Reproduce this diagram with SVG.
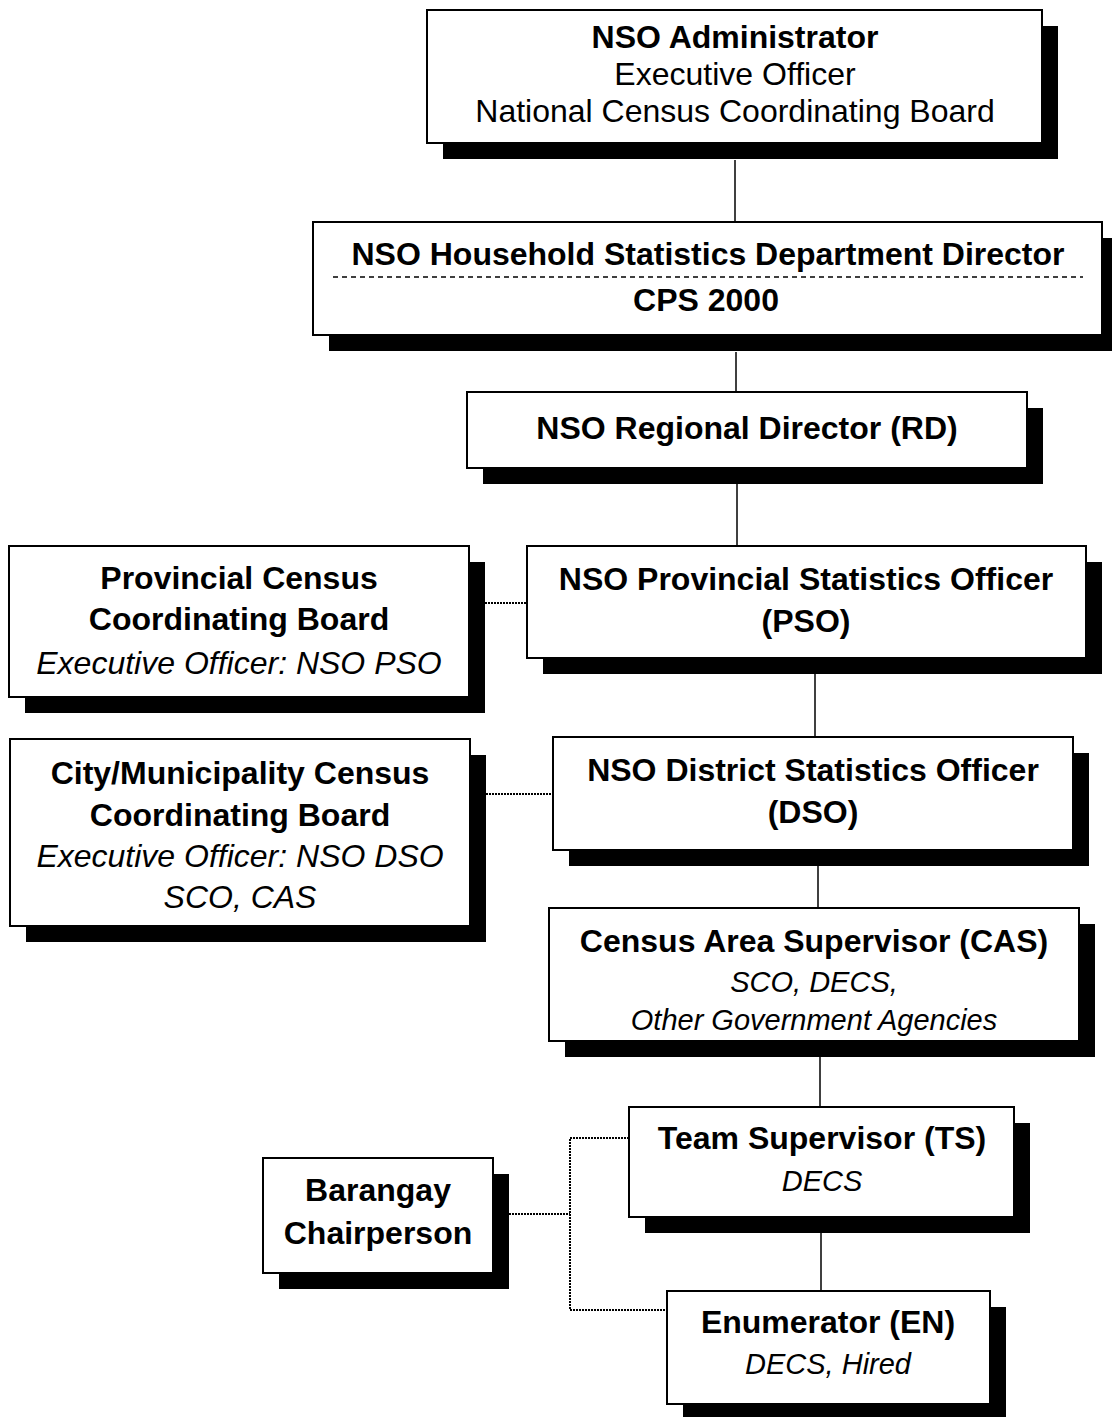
<svg xmlns="http://www.w3.org/2000/svg" width="1112" height="1417" viewBox="0 0 1112 1417">
<style>
.bg{fill:#ffffff}
.sh{fill:#000000}
.bx{fill:#ffffff;stroke:#000000;stroke-width:2}
.t{font-family:"Liberation Sans",Arial,sans-serif;font-size:32px;fill:#000000;text-anchor:middle}
.b{font-weight:bold}
.i{font-style:italic}
.s{font-size:29px}
.ln{stroke:#000000;stroke-width:1.5;fill:none}
.dot{stroke:#000000;stroke-width:2;fill:none;stroke-dasharray:2 1}
.dash{stroke:#000000;stroke-width:1.5;fill:none;stroke-dasharray:5 4}
</style>
<rect class="bg" x="0" y="0" width="1112" height="1417"/>
<g id="connectors">
<line class="ln" x1="735" y1="160" x2="735" y2="222"/>
<line class="ln" x1="736" y1="352" x2="736" y2="392"/>
<line class="ln" x1="737" y1="484" x2="737" y2="546"/>
<line class="ln" x1="815" y1="674" x2="815" y2="737"/>
<line class="ln" x1="818" y1="866" x2="818" y2="908"/>
<line class="ln" x1="820" y1="1057" x2="820" y2="1107"/>
<line class="ln" x1="821" y1="1233" x2="821" y2="1291"/>
<line class="dot" x1="485" y1="603" x2="527" y2="603"/>
<line class="dot" x1="486" y1="794" x2="553" y2="794"/>
<polyline class="dot" points="509,1214 570,1214"/>
<polyline class="dot" points="629,1138 570,1138 570,1310 667,1310"/>
</g>
<g id="node-admin">
<rect class="sh" x="443" y="26" width="615" height="133"/>
<rect class="bx" x="427" y="10" width="615" height="133"/>
<text class="t b" x="735" y="48">NSO Administrator</text>
<text class="t" x="735" y="85">Executive Officer</text>
<text class="t" x="735" y="122">National Census Coordinating Board</text>
</g>
<g id="node-hsd">
<rect class="sh" x="329" y="238" width="789" height="113"/>
<rect class="bx" x="313" y="222" width="789" height="113"/>
<text class="t b" x="708" y="265">NSO Household Statistics Department Director</text>
<line class="dash" x1="333" y1="277" x2="1083" y2="277"/>
<text class="t b" x="706" y="311">CPS 2000</text>
</g>
<g id="node-rd">
<rect class="sh" x="483" y="408" width="560" height="76"/>
<rect class="bx" x="467" y="392" width="560" height="76"/>
<text class="t b" x="747" y="439">NSO Regional Director (RD)</text>
</g>
<g id="node-pso">
<rect class="sh" x="543" y="562" width="559" height="112"/>
<rect class="bx" x="527" y="546" width="559" height="112"/>
<text class="t b" x="806" y="590">NSO Provincial Statistics Officer</text>
<text class="t b" x="806" y="632">(PSO)</text>
</g>
<g id="node-pccb">
<rect class="sh" x="25" y="562" width="460" height="151"/>
<rect class="bx" x="9" y="546" width="460" height="151"/>
<text class="t b" x="239" y="589">Provincial Census</text>
<text class="t b" x="239" y="630">Coordinating Board</text>
<text class="t i" x="239" y="674">Executive Officer: NSO PSO</text>
</g>
<g id="node-dso">
<rect class="sh" x="569" y="753" width="520" height="113"/>
<rect class="bx" x="553" y="737" width="520" height="113"/>
<text class="t b" x="813" y="781">NSO District Statistics Officer</text>
<text class="t b" x="813" y="823">(DSO)</text>
</g>
<g id="node-cmccb">
<rect class="sh" x="26" y="755" width="460" height="187"/>
<rect class="bx" x="10" y="739" width="460" height="187"/>
<text class="t b" x="240" y="784">City/Municipality Census</text>
<text class="t b" x="240" y="826">Coordinating Board</text>
<text class="t i" x="240" y="867">Executive Officer: NSO DSO</text>
<text class="t i" x="240" y="908">SCO, CAS</text>
</g>
<g id="node-cas">
<rect class="sh" x="565" y="924" width="530" height="133"/>
<rect class="bx" x="549" y="908" width="530" height="133"/>
<text class="t b" x="814" y="952">Census Area Supervisor (CAS)</text>
<text class="t i s" x="814" y="992">SCO, DECS,</text>
<text class="t i s" x="814" y="1030">Other Government Agencies</text>
</g>
<g id="node-ts">
<rect class="sh" x="645" y="1123" width="385" height="110"/>
<rect class="bx" x="629" y="1107" width="385" height="110"/>
<text class="t b" x="822" y="1149">Team Supervisor (TS)</text>
<text class="t i s" x="822" y="1191">DECS</text>
</g>
<g id="node-en">
<rect class="sh" x="683" y="1307" width="323" height="113"/>
<rect class="bx" x="667" y="1291" width="323" height="113"/>
<text class="t b" x="828" y="1333">Enumerator (EN)</text>
<text class="t i s" x="828" y="1374">DECS, Hired</text>
</g>
<g id="node-barangay">
<rect class="sh" x="279" y="1174" width="230" height="115"/>
<rect class="bx" x="263" y="1158" width="230" height="115"/>
<text class="t b" x="378" y="1201">Barangay</text>
<text class="t b" x="378" y="1244">Chairperson</text>
</g>
</svg>
